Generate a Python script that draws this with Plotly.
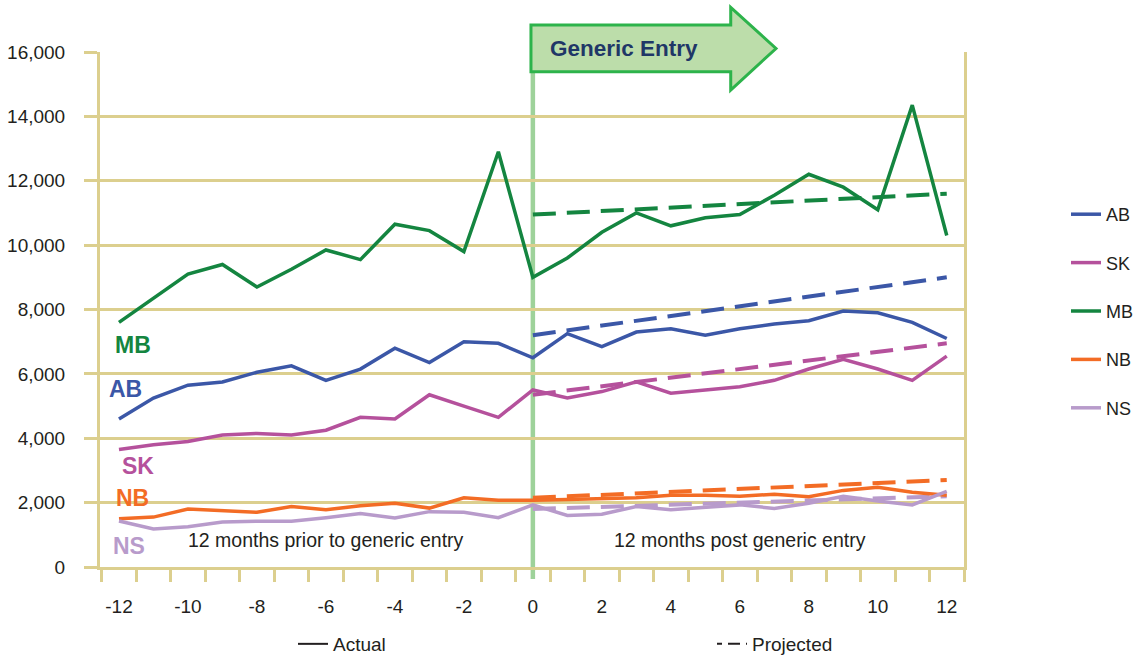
import plotly.graph_objects as go

# ---------------- data ----------------
months = list(range(-12, 13))
AB = [4600, 5250, 5650, 5750, 6050, 6250, 5800, 6150, 6800, 6350, 7000, 6950, 6500,
      7250, 6850, 7300, 7400, 7200, 7400, 7550, 7650, 7950, 7900, 7600, 7100]
SK = [3650, 3800, 3900, 4100, 4150, 4100, 4250, 4650, 4600, 5350, 5000, 4650, 5500,
      5250, 5450, 5750, 5400, 5500, 5600, 5800, 6150, 6450, 6150, 5800, 6550]
MB = [7600, 8350, 9100, 9400, 8700, 9250, 9850, 9550, 10650, 10450, 9800, 12900, 9000,
      9600, 10400, 11000, 10600, 10850, 10950, 11550, 12200, 11800, 11100, 14350, 10300]
NB = [1500, 1550, 1800, 1750, 1700, 1880, 1780, 1900, 1980, 1830, 2150, 2070, 2070,
      2100, 2130, 2150, 2230, 2230, 2200, 2260, 2180, 2380, 2480, 2320, 2230]
NS = [1430, 1180, 1250, 1400, 1420, 1420, 1530, 1660, 1520, 1720, 1700, 1530, 1930,
      1600, 1640, 1880, 1780, 1850, 1930, 1820, 1980, 2200, 2050, 1930, 2350]

proj_months = [0, 12]
AB_proj = [7200, 9000]
SK_proj = [5350, 6950]
MB_proj = [10950, 11600]
NB_proj = [2150, 2700]
NS_proj = [1800, 2200]

provinces = ["AB", "SK", "MB", "NB", "NS"]
x_tick_vals = list(range(-12, 13, 2))
x_tick_text = [str(v) for v in x_tick_vals]
x_minor_ticks = [v + 0.5 for v in range(-13, 13)]
y_tick_vals = list(range(0, 16001, 2000))

# ---------------- styles ----------------
colors = {"AB": "#3B57A7", "SK": "#B5519C", "MB": "#148540", "NB": "#F36C25", "NS": "#B89BCB"}
actual = {"AB": AB, "SK": SK, "MB": MB, "NB": NB, "NS": NS}
projected = {"AB": AB_proj, "SK": SK_proj, "MB": MB_proj, "NB": NB_proj, "NS": NS_proj}
TAN = "#DCCF8E"
TXT = "#231F20"
FONT = "Liberation Sans, Arial, sans-serif"

W, H = 1140, 657
ML, MR, MT, MB_ = 100, 176, 52, 90
PW, PH = W - ML - MR, H - MT - MB_


def px(x):
    return (x - ML) / PW


def py(y):
    return (H - MB_ - y) / PH


fig = go.Figure()

# projected (dashed) first, then actual on top
for p in provinces:
    fig.add_trace(go.Scatter(
        x=proj_months, y=projected[p], mode="lines",
        line=dict(color=colors[p], width=4, dash="23px,11px"),
        showlegend=False, hoverinfo="skip"))

for p in provinces:
    fig.add_trace(go.Scatter(
        x=months, y=actual[p], mode="lines", name=p,
        line=dict(color=colors[p], width=3.5),
        legendgroup=p, legend="legend", hoverinfo="skip"))

# key for line styles
fig.add_trace(go.Scatter(x=[None], y=[None], mode="lines", name="Actual",
                         line=dict(color=TXT, width=2), legend="legend2", hoverinfo="skip"))
fig.add_trace(go.Scatter(x=[None], y=[None], mode="lines", name="Projected",
                         line=dict(color=TXT, width=2, dash="5px,6px,12px,6px"), legend="legend3",
                         hoverinfo="skip"))

# vertical generic-entry line
fig.add_shape(type="line", xref="x", yref="paper", x0=0, x1=0, y0=py(579), y1=py(60),
              line=dict(color="#9ED29A", width=4.5), layer="between")

# arrow
pts = [(531, 25), (730.7, 25), (730.7, 7.3), (776, 48.5), (730.7, 90), (730.7, 71.7), (531, 71.7)]
path = "M " + " L ".join(f"{px(a):.4f},{py(b):.4f}" for a, b in pts) + " Z"
fig.add_shape(type="path", xref="paper", yref="paper", path=path,
              fillcolor="#BCDDAA", line=dict(color="#2DB34B", width=3), layer="above")
fig.add_annotation(xref="paper", yref="paper", x=px(548), y=py(48.5), text="<b>Generic Entry</b>",
                   showarrow=False, xanchor="left", yanchor="middle",
                   font=dict(family=FONT, size=22.5, color="#1F3767"))

# inline province labels
inline = [("MB", -11.6, 6900), ("AB", -11.8, 5530), ("SK", -11.45, 3140),
          ("NB", -11.6, 2140), ("NS", -11.7, 640)]
for name, xx, yy in inline:
    fig.add_annotation(x=xx, y=yy, text=f"<b>{name}</b>", showarrow=False,
                       xanchor="center", yanchor="middle",
                       font=dict(family=FONT, size=23, color=colors[name]))

# period notes
fig.add_annotation(x=-6, y=850, text="12 months prior to generic entry", showarrow=False,
                   font=dict(family=FONT, size=19.5, color=TXT), xanchor="center", yanchor="middle")
fig.add_annotation(x=6, y=850, text="12 months post generic entry", showarrow=False,
                   font=dict(family=FONT, size=19.5, color=TXT), xanchor="center", yanchor="middle")

fig.update_layout(
    width=W, height=H,
    margin=dict(l=ML, r=MR, t=MT, b=MB_, autoexpand=False),
    plot_bgcolor="white", paper_bgcolor="white",
    font=dict(family=FONT, size=19, color=TXT),
    xaxis=dict(range=[-12.55, 12.5], tickvals=x_tick_vals, ticktext=x_tick_text,
               ticks="", showgrid=False, zeroline=False, automargin=False,
               showline=True, linecolor=TAN, linewidth=3,
               ticklabelstandoff=20,
               tickfont=dict(family=FONT, size=19, color=TXT),
               minor=dict(tickmode="array", tickvals=x_minor_ticks, ticks="outside",
                          ticklen=12, tickwidth=3, tickcolor=TAN, showgrid=False)),
    yaxis=dict(range=[0, 16000], tickvals=y_tick_vals, tickformat=",",
               showgrid=True, gridcolor=TAN, gridwidth=2.5, zeroline=False, automargin=False,
               showline=True, linecolor=TAN, linewidth=3, mirror=True,
               ticks="outside", ticklen=13, tickwidth=2.5, tickcolor=TAN,
               ticklabelstandoff=15,
               tickfont=dict(family=FONT, size=19, color=TXT)),
    legend=dict(x=px(1066), y=py(196), xanchor="left", yanchor="top",
                font=dict(family=FONT, size=18, color=TXT),
                tracegroupgap=22, bgcolor="rgba(0,0,0,0)", itemwidth=30),
    legend2=dict(x=px(293), y=py(644), xanchor="left", yanchor="middle",
                 font=dict(family=FONT, size=19, color=TXT), bgcolor="rgba(0,0,0,0)"),
    legend3=dict(x=px(712), y=py(644), xanchor="left", yanchor="middle",
                 font=dict(family=FONT, size=19, color=TXT), bgcolor="rgba(0,0,0,0)"),
    hovermode=False,
)

fig.write_html("out.html", config={"displayModeBar": False},
               post_script="document.body.style.margin='0';document.body.style.overflow='hidden';")
